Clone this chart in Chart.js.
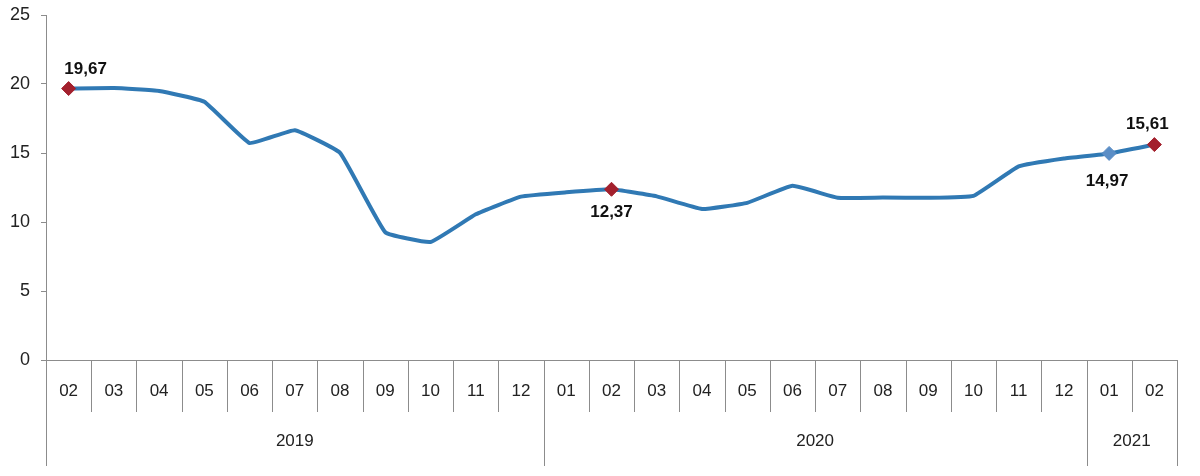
<!DOCTYPE html>
<html>
<head>
<meta charset="utf-8">
<script src="https://cdn.jsdelivr.net/npm/chart.js@4/dist/chart.umd.min.js"></script>
<style>
  html, body { margin: 0; padding: 0; background: #fff; }
  #wrap { width: 1200px; height: 476px; }
</style>
</head>
<body>
<div id="wrap"><canvas id="myChart" width="1200" height="476"></canvas></div>
<script>
// months shown on the axis, and the year each one belongs to
var months = ["02", "03", "04", "05", "06", "07", "08", "09", "10", "11", "12",
              "01", "02", "03", "04", "05", "06", "07", "08", "09", "10", "11", "12",
              "01", "02"];
var years = ["2019", "2019", "2019", "2019", "2019", "2019", "2019", "2019", "2019", "2019", "2019",
             "2020", "2020", "2020", "2020", "2020", "2020", "2020", "2020", "2020", "2020", "2020", "2020",
             "2021", "2021"];
var inflation = [19.67, 19.71, 19.50, 18.71, 15.72, 16.65, 15.01, 9.26, 8.55, 10.56, 11.84,
                 12.15, 12.37, 11.86, 10.94, 11.39, 12.62, 11.76, 11.77, 11.75, 11.89, 14.03, 14.60,
                 14.97, 15.61];
var yTicks = [0, 5, 10, 15, 20, 25];
// points that get a marker + value label
var labelledIdx = [0, 12, 23, 24];

var lineColor = "#3079b4";
var redMark = "#a3202d";
var blueMark = "#5b8ec6";
var axisColor = "#8c8c8c";
var fontFam = "'Liberation Sans', Arial, sans-serif";

function markerColor(i) {
  return i === 23 ? blueMark : redMark;
}

// label offsets from the marker, per labelled point
function labelOffset(idx) {
  if (idx === 0) return [17, -19];
  if (idx === 12) return [0, 23];
  if (idx === 23) return [-2, 28];
  return [-7, -20];
}

// draws the month separators, the year row and the value labels
var axisTable = {
  id: "axisTable",
  afterDraw: function (chart) {
    var ctx = chart.ctx;
    var xs = chart.scales.x;
    var area = chart.chartArea;
    var top = area.bottom;
    var monthBottom = top + 52;
    var yearBottom = top + 106;
    var half = (xs.getPixelForValue(1) - xs.getPixelForValue(0)) / 2;

    ctx.save();
    ctx.strokeStyle = axisColor;
    ctx.lineWidth = 1;
    for (var i = 0; i <= months.length; i++) {
      var x;
      if (i < months.length) x = xs.getPixelForValue(i) - half;
      else x = xs.getPixelForValue(i - 1) + half;
      x = Math.round(x) + 0.5;
      var yearEdge = i === 0 || i === months.length || years[i] !== years[i - 1];
      ctx.beginPath();
      ctx.moveTo(x, top);
      ctx.lineTo(x, yearEdge ? yearBottom : monthBottom);
      ctx.stroke();
    }

    // year labels centered on their block of months
    ctx.fillStyle = "#222";
    ctx.font = "17px " + fontFam;
    ctx.textAlign = "center";
    ctx.textBaseline = "middle";
    var start = 0;
    for (var j = 1; j <= years.length; j++) {
      if (j === years.length || years[j] !== years[start]) {
        var x0 = xs.getPixelForValue(start) - half;
        var x1 = xs.getPixelForValue(j - 1) + half;
        ctx.fillText(years[start], (x0 + x1) / 2, top + 81);
        start = j;
      }
    }

    // value labels
    var meta = chart.getDatasetMeta(0);
    ctx.font = "bold 17px " + fontFam;
    ctx.fillStyle = "#111";
    labelledIdx.forEach(function (idx) {
      var pt = meta.data[idx];
      var off = labelOffset(idx);
      var txt = inflation[idx].toFixed(2).replace(".", ",");
      ctx.fillText(txt, pt.x + off[0], pt.y + off[1]);
    });
    ctx.restore();
  }
};

var ctx = document.getElementById("myChart");
var myChart = new Chart(ctx, {
  type: "line",
  data: {
    labels: months,
    datasets: [
      {
        data: inflation,
        borderColor: lineColor,
        borderWidth: 4,
        tension: 0.1,
        pointStyle: "rectRot",
        pointRadius: function (c) {
          return labelledIdx.indexOf(c.dataIndex) >= 0 ? 7 : 0;
        },
        pointBackgroundColor: function (c) { return markerColor(c.dataIndex); },
        pointBorderColor: function (c) { return markerColor(c.dataIndex); },
        pointBorderWidth: 1,
        clip: false,
      },
    ],
  },
  options: {
    responsive: false,
    animation: false,
    devicePixelRatio: 1,
    layout: { padding: { top: 15, right: 23, left: 0, bottom: 0 } },
    plugins: {
      legend: { display: false },
      tooltip: { enabled: false },
    },
    scales: {
      x: {
        type: "category",
        offset: true,
        grid: { display: false, drawTicks: false },
        border: { display: true, color: axisColor, width: 1 },
        ticks: {
          color: "#222",
          font: { size: 17, family: fontFam },
          padding: 21,
          maxRotation: 0,
          autoSkip: false,
        },
        afterFit: function (scale) { scale.height = 116; },
      },
      y: {
        min: 0,
        max: 25,
        afterBuildTicks: function (scale) {
          scale.ticks = yTicks.map(function (v) { return { value: v }; });
        },
        grid: {
          drawOnChartArea: false,
          drawTicks: true,
          tickLength: 5,
          color: axisColor,
        },
        border: { display: true, color: axisColor, width: 1 },
        ticks: {
          color: "#222",
          font: { size: 18, family: fontFam },
          padding: 11,
        },
        afterFit: function (scale) {
          scale.width = 46;
          scale.paddingTop = 0;
          scale.paddingBottom = 0;
        },
      },
    },
  },
  plugins: [axisTable],
});
</script>
</body>
</html>
